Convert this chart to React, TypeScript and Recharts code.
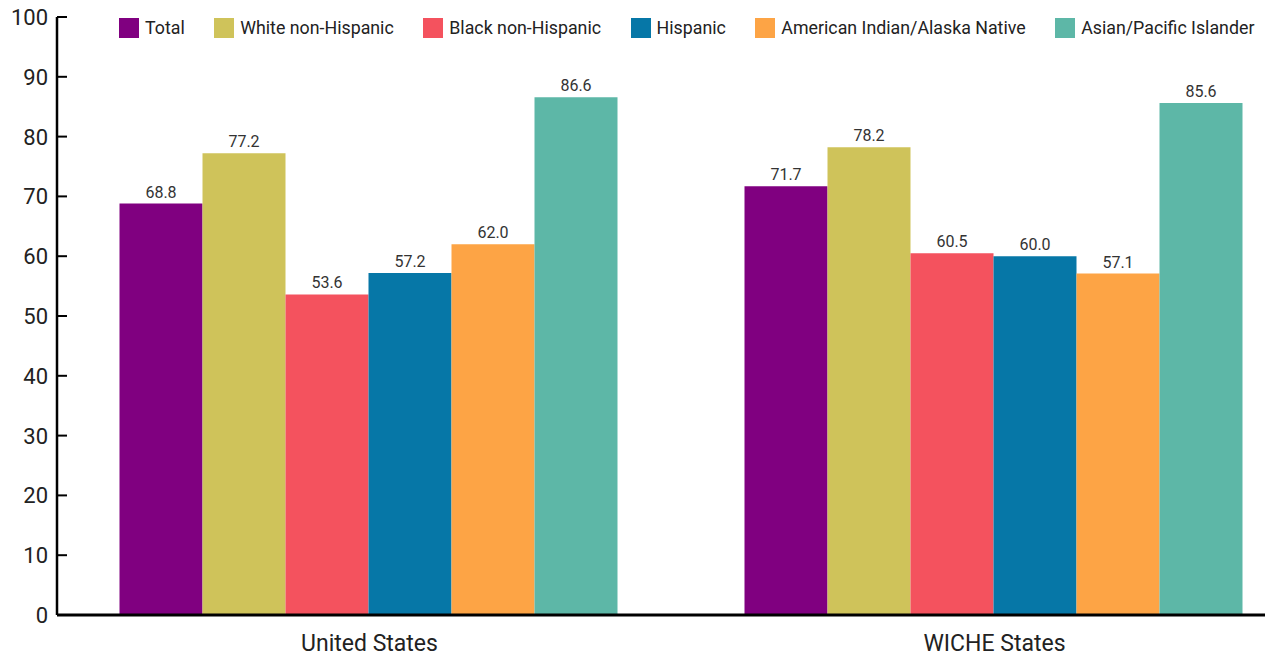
import { BarChart, Bar, XAxis, YAxis, LabelList } from 'recharts';

const regions = ['United States', 'WICHE States'];
const groups = [
  'Total',
  'White non-Hispanic',
  'Black non-Hispanic',
  'Hispanic',
  'American Indian/Alaska Native',
  'Asian/Pacific Islander',
];
const colors = ['#800080', '#cfc35a', '#f4525e', '#0677a7', '#fda445', '#5db7a7'];
const unitedStates = [68.8, 77.2, 53.6, 57.2, 62.0, 86.6];
const wicheStates = [71.7, 78.2, 60.5, 60.0, 57.1, 85.6];
const yTicks = [0, 10, 20, 30, 40, 50, 60, 70, 80, 90, 100];

const seriesByRegion = [unitedStates, wicheStates];

const data = regions.map((region, i) => {
  const row: Record<string, string | number> = { region };
  groups.forEach((_, j) => {
    row['s' + j] = seriesByRegion[i][j];
  });
  return row;
});

const font = 'Roboto, "Open Sans", sans-serif';

function YTick({ x, y, payload }: any) {
  return (
    <g>
      <line x1={x} x2={x + 10} y1={y} y2={y} stroke="#000" strokeWidth={2} />
      <text
        x={x - 9}
        y={y}
        dy="0.36em"
        textAnchor="end"
        fontSize={22}
        fontFamily={font}
        fill="#222"
      >
        {payload.value}
      </text>
    </g>
  );
}

function ChartLegend() {
  return (
    <div
      style={{
        position: 'absolute',
        left: 119,
        top: 18,
        display: 'flex',
        whiteSpace: 'nowrap',
        fontFamily: font,
        fontSize: 17.8,
        color: '#222',
        lineHeight: '20px',
      }}
    >
      {groups.map((g, i) => (
        <div key={g} style={{ display: 'flex', alignItems: 'center', marginRight: 29.5 }}>
          <span
            style={{
              display: 'inline-block',
              width: 20,
              height: 20,
              background: colors[i],
              marginRight: 6,
            }}
          />
          <span>{g}</span>
        </div>
      ))}
    </div>
  );
}

export default function App() {
  return (
    <div
      style={{
        position: 'absolute',
        left: 0,
        top: 0,
        width: 1265,
        height: 658,
        overflow: 'hidden',
        background: '#fff',
      }}
    >
      <BarChart
        width={1307}
        height={658}
        data={data}
        margin={{ top: 17, right: 0, left: 0, bottom: 0 }}
        barCategoryGap="10%"
        barGap={0}
      >
        <XAxis
          dataKey="region"
          height={43}
          axisLine={{ stroke: '#000', strokeWidth: 3 }}
          tickLine={false}
          tickSize={0}
          tickMargin={20}
          tick={{ fontSize: 23, fill: '#222', fontFamily: font }}
        />
        <YAxis
          width={57}
          domain={[0, 100]}
          ticks={yTicks}
          interval={0}
          axisLine={{ stroke: '#000', strokeWidth: 2.5 }}
          tickLine={false}
          tickSize={0}
          tickMargin={0}
          tick={<YTick />}
        />
        {groups.map((g, j) => (
          <Bar
            key={g}
            dataKey={'s' + j}
            name={g}
            fill={colors[j]}
            isAnimationActive={false}
          >
            <LabelList
              dataKey={'s' + j}
              position="top"
              offset={6}
              formatter={(v: any) => Number(v).toFixed(1)}
              style={{ fontSize: 16, fill: '#333', fontFamily: font }}
            />
          </Bar>
        ))}
      </BarChart>
      <ChartLegend />
    </div>
  );
}
